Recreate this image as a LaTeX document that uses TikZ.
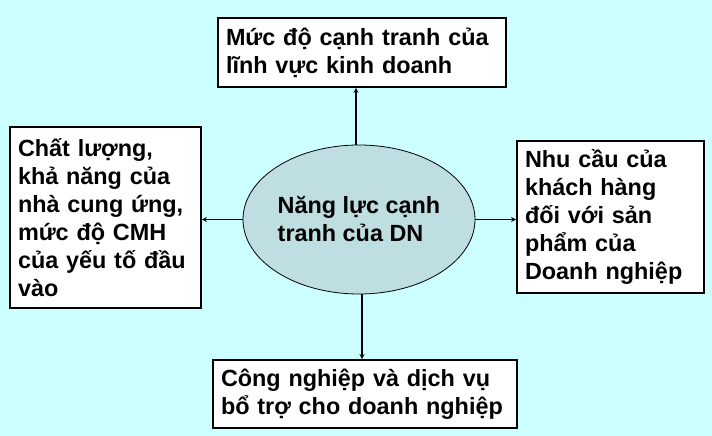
\documentclass[tikz,border=0pt]{standalone}
\usepackage{fontspec}
\setmainfont{Liberation Sans}
\usepackage{tikz}
\usetikzlibrary{shapes.geometric}

\definecolor{bgcyan}{RGB}{204,255,255}
\definecolor{ellfill}{RGB}{190,222,226}

\begin{document}
\begin{tikzpicture}[x=1pt,y=-1pt,
  every node/.style={font=\fontsize{23.4}{28}\selectfont\bfseries},
  factor/.style={draw=black,line width=1.6pt,fill=white,align=left,inner xsep=8pt,inner ysep=4pt},
  link/.style={->,>=stealth,line width=1.3pt}]
\fill [bgcyan] (0,0) rectangle (712,436);
\useasboundingbox (0,0) rectangle (712,436);
% centre
\node [draw=black,line width=0.8pt,fill=ellfill,ellipse,minimum width=232pt,minimum height=149pt,align=left,inner sep=0pt] (dn) at (359,219.5) {Năng lực cạnh\\tranh của DN};
% four factors
\node [factor,text width=272pt,minimum height=69pt] (comp) at (362,52.5) {Mức độ cạnh tranh của\\lĩnh vực kinh doanh};
\node [factor,text width=175pt,minimum height=181pt] (supp) at (105.5,217.5) {Chất lượng,\\khả năng của\\nhà cung ứng,\\mức độ CMH\\của yếu tố đầu\\vào};
\node [factor,text width=171pt,minimum height=152pt] (cust) at (610.5,217) {Nhu cầu của\\khách hàng\\đối với sản\\phẩm của\\Doanh nghiệp};
\node [factor,text width=288pt,minimum height=68pt] (ind) at (365,394) {Công nghiệp và dịch vụ\\bổ trợ cho doanh nghiệp};
% arrows
\draw [link] ([xshift=-3pt]dn.north) -- ([xshift=-3pt]dn.north |- comp.south);
\draw [link] ([xshift=3pt]dn.south) -- ([xshift=3pt]dn.south |- ind.north);
\draw [link] (dn.west) -- (dn.west -| supp.east);
\draw [link] (dn.east) -- (dn.east -| cust.west);
\end{tikzpicture}
\end{document}
